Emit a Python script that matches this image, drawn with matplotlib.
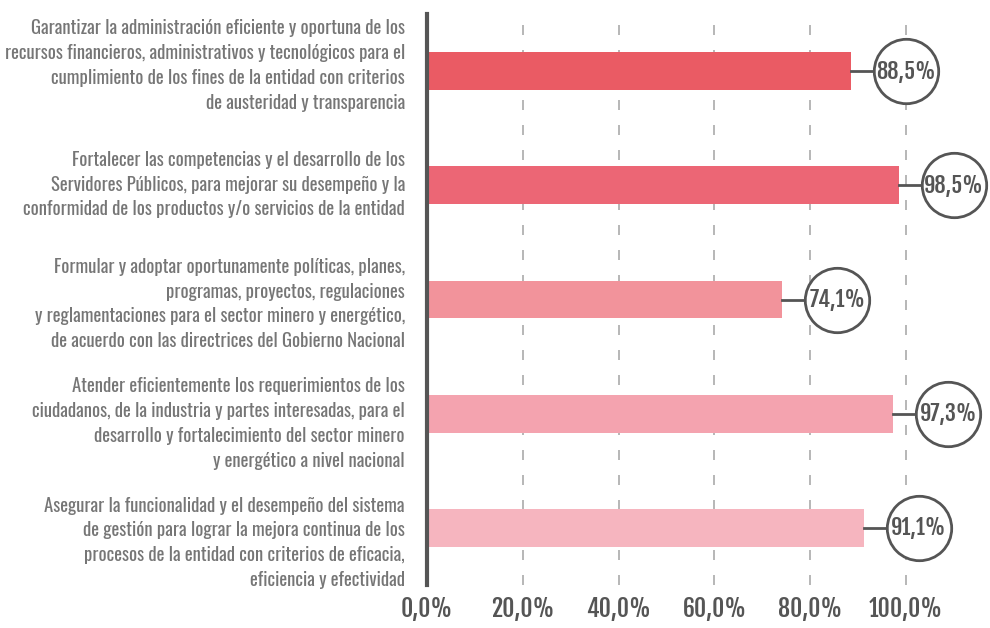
import matplotlib
matplotlib.use("Agg")
import matplotlib.pyplot as plt

plt.rcParams['font.family'] = ['Oswald', 'Roboto Condensed', 'DejaVu Sans']

categorias = [
    "Garantizar la administración eficiente y oportuna de los\nrecursos financieros, administrativos y tecnológicos para el\ncumplimiento de los fines de la entidad con criterios\nde austeridad y transparencia",
    "Fortalecer las competencias y el desarrollo de los\nServidores Públicos, para mejorar su desempeño y la\nconformidad de los productos y/o servicios de la entidad",
    "Formular y adoptar oportunamente políticas, planes,\nprogramas, proyectos, regulaciones\ny reglamentaciones para el sector minero y energético,\nde acuerdo con las directrices del Gobierno Nacional",
    "Atender eficientemente los requerimientos de los\nciudadanos, de la industria y partes interesadas, para el\ndesarrollo y fortalecimiento del sector minero\ny energético a nivel nacional",
    "Asegurar la funcionalidad y el desempeño del sistema\nde gestión para lograr la mejora continua de los\nprocesos de la entidad con criterios de eficacia,\neficiencia y efectividad",
]
valores = [88.5, 98.5, 74.1, 97.3, 91.1]
etiquetas = ["88,5%", "98,5%", "74,1%", "97,3%", "91,1%"]
colores = ["#EA5B64", "#EC6675", "#F2939B", "#F4A3AF", "#F6B5BF"]
ticks = [0, 20, 40, 60, 80, 100]
tick_labels = ["0,0%", "20,0%", "40,0%", "60,0%", "80,0%", "100,0%"]

gris = "#555555"
num_font = ['Fjalla One', 'Roboto Condensed', 'DejaVu Sans']

fig = plt.figure(figsize=(9.9, 6.28), dpi=100)
ax = fig.add_axes([427 / 990, 1 - 585 / 628, 1 - 427 / 990, (585 - 14) / 628])

y = list(range(len(valores)))
ax.barh(y, valores, height=0.33, color=colores, zorder=2)

for yi, v, lab in zip(y, valores, etiquetas):
    cx = v + 11.5
    ax.plot([v, cx], [yi, yi], color=gris, lw=2, zorder=3)
    ax.scatter([cx], [yi], s=2150, facecolor="white", edgecolor=gris,
               linewidth=2, zorder=4, clip_on=False)
    ax.text(cx, yi, lab, ha="center", va="center", fontsize=16,
            color=gris, zorder=5, family=num_font)

# textos de categoria, un poco mas espaciados que las barras
for i, cat in enumerate(categorias):
    ax.text(-4.6, i * 1.045 - 0.05, cat, ha="right", va="center",
            fontsize=13.5, color="#767676", linespacing=1.45, clip_on=False)

ax.set_xlim(0, 117.5)
ax.set_ylim(4.5, -0.5)

for t in ticks[1:]:
    ax.axvline(t, color="#AAAAAA", lw=1.2, ls=(0, (6, 9)), zorder=1)

ax.set_xticks(ticks)
ax.set_xticklabels(tick_labels, fontsize=17, color=gris, family=num_font)
ax.tick_params(axis="x", length=0, pad=8)
ax.set_yticks([])

for s in ["top", "right", "bottom"]:
    ax.spines[s].set_visible(False)
ax.spines["left"].set_color(gris)
ax.spines["left"].set_linewidth(3)

fig.savefig("out.png", dpi=100)
